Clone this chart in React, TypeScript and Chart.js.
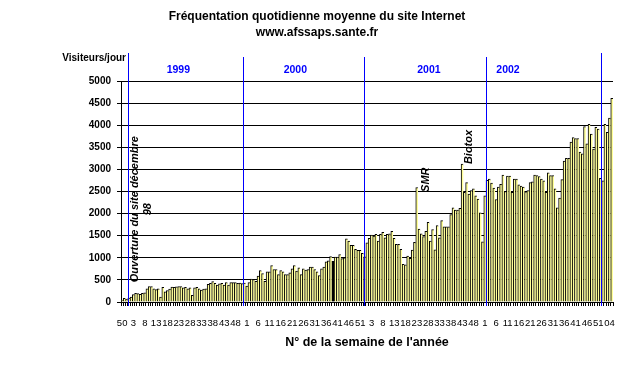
import React, { useEffect, useRef } from "react";
import { Chart, registerables } from "chart.js";

Chart.register(...registerables);

const FONT = "Arial, 'Liberation Sans', Helvetica, sans-serif";

const titleLines = ["Fréquentation quotidienne moyenne du site Internet", "www.afssaps.sante.fr"];
const yAxisTitle = "Visiteurs/jour";
const xAxisTitle = "N° de la semaine de l'année";

// Weekly average daily visitors, per year segment
const v1998 = [45, 85, 65];
const v1999 = [
  90, 110, 170, 195, 190, 175, 195, 210, 300, 350, 350, 300, 280, 300, 110, 330, 230, 260, 290, 340,
  330, 345, 350, 350, 320, 330, 300, 320, 150, 320, 330, 300, 270, 290, 300, 400, 420, 460, 420, 380,
  410, 420, 380, 440, 380, 440, 440, 440, 420, 430, 415, 430,
];
const v2000 = [
  360, 440, 520, 510, 470, 585, 710, 645, 470, 680, 680, 825, 735, 735, 620, 710, 680, 620, 620, 660,
  750, 825, 700, 775, 620, 750, 720, 735, 790, 790, 735, 680, 600, 750, 790, 910, 930, 1025, 920, 1015,
  1015, 1075, 980, 1000, 1430, 1380, 1280, 1280, 1190, 1170, 1170, 1100, 1020,
];
const v2001 = [
  1340, 1440, 1515, 1490, 1530, 1380, 1530, 1575, 1450, 1530, 1545, 1600, 1440, 1305, 1305, 1190, 850, 840, 1040, 990,
  1175, 1350, 2590, 1650, 1540, 1480, 1600, 1800, 1380, 1640, 1180, 1730, 1450, 1840, 1700, 1700, 1700, 1980, 2130, 2080,
  2080, 2120, 3120, 2480, 2700, 2440, 2520, 2560, 2400, 2330, 2020, 1360,
];
const v2002 = [
  2400, 2750, 2780, 2690, 2580, 2320, 2600, 2660, 2870, 2500, 2850, 2850, 2480, 2780, 2780, 2650, 2620, 2600, 2490, 2520,
  2700, 2720, 2870, 2860, 2840, 2780, 2740, 2480, 2920, 2860, 2860, 2560, 2130, 2350, 2770, 3190, 3250, 3250, 3620, 3720,
  3700, 3700, 3390, 3350, 3970, 3580, 4020, 3800, 3460, 3950, 3910, 2800,
];
const v2003 = [2740, 4020, 3840, 4160, 4610];

const segments = [
  { year: "1998", firstWeek: 50, pad: false, values: v1998 },
  { year: "1999", firstWeek: 1, pad: false, values: v1999 },
  { year: "2000", firstWeek: 1, pad: false, values: v2000 },
  { year: "2001", firstWeek: 1, pad: false, values: v2001 },
  { year: "2002", firstWeek: 1, pad: false, values: v2002 },
  { year: "2003", firstWeek: 1, pad: true, values: v2003 },
];

const weekLabels: string[] = [];
const values: number[] = [];
segments.forEach((s) => {
  s.values.forEach((v, k) => {
    const w = String(s.firstWeek + k);
    weekLabels.push(s.pad ? w.padStart(2, "0") : w);
    values.push(v);
  });
});

const yTicks = { min: 0, max: 5000, step: 500 };
const labelEvery = 5;

// Hand-drawn year separators (position in category units) and year captions
const separatorAnchor = [3.0, 53.8, 107.3, 160.8, 211.5];
const yearCaptions = ["1999", "2000", "2001", "2002"];
const yearCaptionAnchor = [24.8, 76.4, 135.3, 170.2];

// Text annotations
const openingNote = ["Ouverture du site décembre", "98"];
const openingAnchor = { idx: 5, value: 2100 };
const smrNote = { text: "SMR", idx: 130, value: 2490 };
const biotoxNote = { text: "Biotox", idx: 150, value: 3120 };
const blackBarIdx = 93;

const BAR_FILL = "#FFFF99";
const BLUE = "#0000FF";

const overlayPlugin = {
  id: "overlay",
  afterDraw(chart: any) {
    const { ctx, chartArea, scales } = chart;
    const xs = scales.x;
    const ys = scales.y;
    const step = (chartArea.right - chartArea.left) / weekLabels.length;
    ctx.save();

    // Titles
    ctx.fillStyle = "#000";
    ctx.textAlign = "center";
    ctx.textBaseline = "middle";
    ctx.font = `bold 12px ${FONT}`;
    ctx.fillText(titleLines[0], 317, 17);
    ctx.fillText(titleLines[1], 317, 33);

    ctx.font = `bold 10px ${FONT}`;
    ctx.textAlign = "right";
    ctx.fillText(yAxisTitle, 126, 58);

    ctx.font = `bold 12.5px ${FONT}`;
    ctx.textAlign = "center";
    ctx.fillText(xAxisTitle, (chartArea.left + chartArea.right) / 2, 343);

    // Year separators
    ctx.strokeStyle = BLUE;
    ctx.lineWidth = 1;
    separatorAnchor.forEach((a, i) => {
      const x = Math.round(chartArea.left + a * step) + 0.5;
      const outer = i === 0 || i === separatorAnchor.length - 1;
      ctx.beginPath();
      ctx.moveTo(x, chartArea.top - (outer ? 28 : 24));
      ctx.lineTo(x, chartArea.bottom + 4);
      ctx.stroke();
    });

    // Year captions
    ctx.fillStyle = BLUE;
    ctx.font = `bold 10.5px ${FONT}`;
    ctx.textAlign = "center";
    ctx.textBaseline = "middle";
    yearCaptions.forEach((t, i) => {
      const x = chartArea.left + (yearCaptionAnchor[i] + 0.5) * step;
      ctx.fillText(t, x, 70);
    });

    // Rotated annotations
    ctx.fillStyle = "#000";
    ctx.font = `italic bold 11px ${FONT}`;
    ctx.textBaseline = "alphabetic";

    ctx.save();
    ctx.translate(xs.getPixelForValue(openingAnchor.idx) + 5, ys.getPixelForValue(openingAnchor.value));
    ctx.rotate(-Math.PI / 2);
    ctx.textAlign = "center";
    ctx.fillText(openingNote[0], 0, 0);
    ctx.fillText(openingNote[1], 0, 12.5);
    ctx.restore();

    [
      { n: smrNote, dx: 12 },
      { n: biotoxNote, dx: 9.5 },
    ].forEach(({ n, dx }) => {
      ctx.save();
      ctx.translate(xs.getPixelForValue(n.idx) + dx, ys.getPixelForValue(n.value));
      ctx.rotate(-Math.PI / 2);
      ctx.textAlign = "left";
      ctx.fillText(n.text, 0, 0);
      ctx.restore();
    });

    ctx.restore();
  },
};

export default function App() {
  const canvasRef = useRef<HTMLCanvasElement | null>(null);

  useEffect(() => {
    const canvas = canvasRef.current;
    if (!canvas) return;
    const colors = values.map((_, i) => (i === blackBarIdx ? "#000" : BAR_FILL));
    const chart = new Chart(canvas, {
      type: "bar",
      data: {
        labels: weekLabels,
        datasets: [
          {
            data: values,
            backgroundColor: colors,
            borderColor: "#000",
            borderWidth: { top: 1, left: 1, right: 0, bottom: 0 },
            barPercentage: 1,
            categoryPercentage: 1,
          },
        ],
      },
      options: {
        responsive: false,
        animation: false,
        events: [],
        layout: { padding: { top: 81, right: 14, bottom: 0, left: 0 } },
        plugins: {
          legend: { display: false },
          tooltip: { enabled: false },
          title: { display: false },
        },
        scales: {
          x: {
            type: "category",
            offset: true,
            ticks: {
              autoSkip: false,
              maxRotation: 0,
              minRotation: 0,
              color: "#000",
              padding: 12,
              font: { family: FONT, size: 9.5 },
              callback: (_v: any, i: number) => (i % labelEvery === 0 ? weekLabels[i] : ""),
            },
            grid: { drawOnChartArea: false, color: "#000", tickLength: 4, offset: true },
            border: { color: "#000", width: 1 },
            afterFit: (s: any) => {
              s.height = 79;
              s.paddingLeft = 0;
              s.paddingRight = 0;
            },
          },
          y: {
            min: yTicks.min,
            max: yTicks.max,
            ticks: {
              stepSize: yTicks.step,
              color: "#000",
              padding: 6,
              font: { family: FONT, size: 10, weight: "bold" },
              callback: (v: any) => String(v),
            },
            grid: { color: "#000", lineWidth: 1, tickLength: 4 },
            border: { color: "#000", width: 1 },
            afterFit: (s: any) => {
              s.width = 121;
              s.paddingTop = 0;
              s.paddingBottom = 0;
            },
          },
        },
      },
      plugins: [overlayPlugin],
    });
    return () => chart.destroy();
  }, []);

  return (
    <div style={{ position: "fixed", left: 0, top: 0, width: 627, height: 381, background: "#fff" }}>
      <canvas ref={canvasRef} width={627} height={381} style={{ display: "block" }} />
    </div>
  );
}
